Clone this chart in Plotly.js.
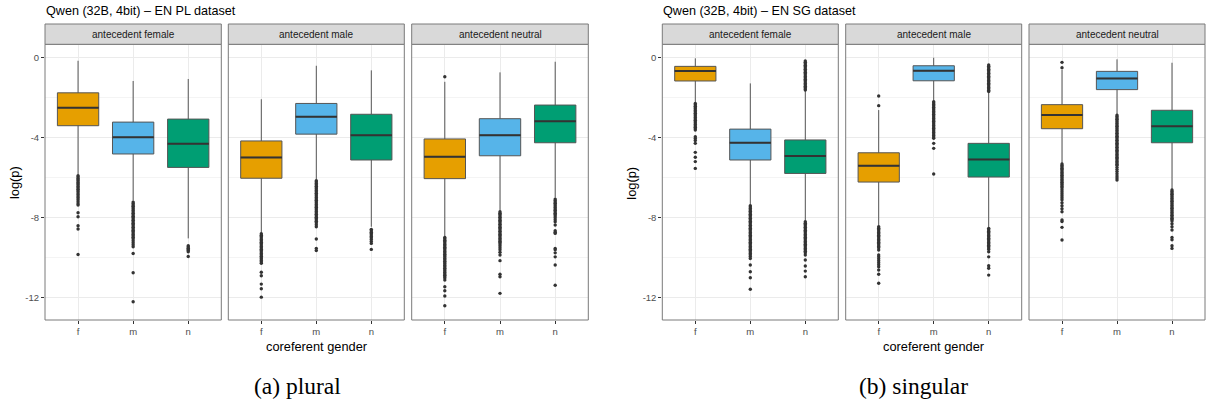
<!DOCTYPE html>
<html>
<head>
<meta charset="utf-8">
<script src="https://cdn.plot.ly/plotly-3.0.1.min.js"></script>
<style>html,body{margin:0;padding:0;background:#fff;}#chart{width:1207px;height:403px;}</style>
</head>
<body>
<div id="chart"></div>
<script>
// ---------- data ----------
const facets = ['antecedent female', 'antecedent male', 'antecedent neutral'];
const genders = ['f', 'm', 'n'];
const datasetTitles = ['Qwen (32B, 4bit) \u2013 EN PL dataset', 'Qwen (32B, 4bit) \u2013 EN SG dataset'];
const captions = ['(a) plural', '(b) singular'];
const yTickVals = [-12, -8, -4, 0];
const yTickText = ['-12', '-8', '-4', '0'];

// PL dataset: [facet][gender]
const plUpper  = [[-0.17, -1.18, -1.08], [-2.09, -0.42, -0.65], [-1.22, -0.75, -0.22]];
const plQ3     = [[-1.77, -3.23, -3.08], [-4.17, -2.30, -2.84], [-4.07, -3.06, -2.38]];
const plMedian = [[-2.51, -3.99, -4.31], [-4.99, -2.96, -3.88], [-4.96, -3.88, -3.19]];
const plQ1     = [[-3.41, -4.82, -5.49], [-6.03, -3.83, -5.12], [-6.05, -4.91, -4.26]];
const plLower  = [[-5.85, -7.15, -9.03], [-8.75, -6.10, -8.45], [-8.95, -7.65, -7.00]];
const plOutliers = [
  [
    [-5.9,-5.97,-6.04,-6.1,-6.17,-6.24,-6.3,-6.37,-6.44,-6.5,-6.58,-6.65,-6.72,-6.8,-6.87,-6.95,-7.02,-7.1,-7.2,-7.3,-7.37,-7.75,-7.95,-8.4,-8.56,-9.83],
    [-7.22,-7.29,-7.36,-7.43,-7.5,-7.57,-7.64,-7.71,-7.78,-7.85,-7.92,-7.99,-8.06,-8.13,-8.2,-8.27,-8.34,-8.41,-8.48,-8.55,-8.62,-8.69,-8.76,-8.83,-8.9,-8.97,-9.05,-9.15,-9.25,-9.35,-9.45,-9.78,-10.74,-12.19],
    [-9.4,-9.46,-9.52,-9.58,-9.64,-9.7,-9.93]
  ],
  [
    [-8.8,-8.87,-8.94,-9.01,-9.08,-9.15,-9.22,-9.29,-9.36,-9.43,-9.5,-9.57,-9.64,-9.71,-9.78,-9.85,-9.92,-9.99,-10.06,-10.13,-10.2,-10.27,-10.72,-10.89,-11.31,-11.54,-11.96],
    [-6.15,-6.22,-6.29,-6.36,-6.43,-6.5,-6.57,-6.64,-6.71,-6.78,-6.85,-6.92,-6.99,-7.06,-7.13,-7.2,-7.27,-7.34,-7.41,-7.48,-7.55,-7.62,-7.69,-7.76,-7.83,-7.9,-7.97,-8.04,-8.11,-8.18,-8.25,-8.35,-8.45,-9.06,-9.53,-9.64],
    [-8.58,-8.65,-8.72,-8.79,-8.86,-8.93,-9.0,-9.08,-9.18,-9.28,-9.58]
  ],
  [
    [-0.97,-8.98,-9.05,-9.12,-9.19,-9.26,-9.33,-9.4,-9.47,-9.54,-9.61,-9.68,-9.75,-9.82,-9.89,-9.96,-10.03,-10.1,-10.17,-10.24,-10.31,-10.38,-10.45,-10.52,-10.59,-10.66,-10.73,-10.8,-10.87,-10.94,-11.01,-11.11,-11.44,-11.64,-11.9,-12.39],
    [-7.7,-7.77,-7.84,-7.91,-7.98,-8.05,-8.12,-8.19,-8.26,-8.33,-8.4,-8.47,-8.54,-8.61,-8.68,-8.75,-8.82,-8.89,-8.96,-9.03,-9.1,-9.17,-9.24,-9.31,-9.4,-9.5,-9.6,-9.72,-9.86,-10.14,-10.82,-10.94,-11.77],
    [-7.07,-7.14,-7.21,-7.28,-7.35,-7.42,-7.49,-7.56,-7.63,-7.7,-7.77,-7.84,-7.91,-8.0,-8.1,-8.2,-8.36,-8.65,-8.72,-8.78,-9.53,-9.6,-9.75,-9.95,-10.36,-11.37]
  ]
];

// SG dataset: [facet][gender]
const sgUpper  = [[-0.05, -1.30, -1.66], [-2.63, -0.02, -1.75], [-0.63, -0.10, -0.27]];
const sgQ3     = [[-0.45, -3.58, -4.12], [-4.76, -0.42, -4.29], [-2.36, -0.70, -2.64]];
const sgMedian = [[-0.68, -4.26, -4.92], [-5.41, -0.67, -5.09], [-2.88, -1.05, -3.44]];
const sgQ1     = [[-1.18, -5.12, -5.79], [-6.22, -1.17, -5.97], [-3.56, -1.61, -4.26]];
const sgLower  = [[-2.25, -7.35, -8.15], [-8.40, -2.18, -8.50], [-5.30, -2.85, -6.60]];
const sgOutliers = [
  [
    [-2.3,-2.37,-2.44,-2.51,-2.58,-2.65,-2.72,-2.79,-2.86,-2.93,-3.0,-3.07,-3.14,-3.21,-3.28,-3.35,-3.42,-3.49,-3.56,-3.63,-3.96,-4.05,-4.15,-4.29,-4.74,-4.98,-5.2,-5.54],
    [-7.4,-7.47,-7.54,-7.61,-7.68,-7.75,-7.82,-7.89,-7.96,-8.03,-8.1,-8.17,-8.24,-8.31,-8.38,-8.45,-8.52,-8.59,-8.66,-8.73,-8.8,-8.87,-8.94,-9.01,-9.08,-9.15,-9.22,-9.29,-9.36,-9.43,-9.5,-9.57,-9.64,-9.71,-9.78,-9.85,-9.93,-10.03,-10.36,-10.69,-10.99,-11.57],
    [-0.18,-0.25,-0.32,-0.39,-0.46,-0.53,-0.6,-0.67,-0.74,-0.81,-0.88,-0.95,-1.02,-1.09,-1.16,-1.23,-1.3,-1.37,-1.44,-1.51,-1.58,-1.63,
     -8.2,-8.27,-8.34,-8.41,-8.48,-8.55,-8.62,-8.69,-8.76,-8.83,-8.9,-8.97,-9.04,-9.11,-9.18,-9.25,-9.32,-9.39,-9.46,-9.53,-9.6,-9.67,-9.74,-9.86,-10.11,-10.41,-10.66,-10.94]
  ],
  [
    [-1.93,-2.41,-8.45,-8.52,-8.59,-8.66,-8.73,-8.8,-8.87,-8.94,-9.01,-9.08,-9.15,-9.22,-9.29,-9.36,-9.43,-9.5,-9.61,-9.86,-9.95,-10.05,-10.15,-10.25,-10.35,-10.45,-10.61,-10.82,-11.27],
    [-2.21,-2.28,-2.35,-2.42,-2.49,-2.56,-2.63,-2.7,-2.77,-2.84,-2.91,-2.98,-3.05,-3.12,-3.19,-3.26,-3.33,-3.4,-3.47,-3.54,-3.61,-3.68,-3.75,-3.82,-3.9,-3.97,-4.04,-4.29,-4.54,-5.82],
    [-0.38,-0.45,-0.52,-0.59,-0.66,-0.73,-0.8,-0.87,-0.94,-1.01,-1.08,-1.15,-1.22,-1.29,-1.36,-1.43,-1.5,-1.57,-1.64,-1.71,
     -8.53,-8.6,-8.67,-8.74,-8.81,-8.88,-8.95,-9.02,-9.09,-9.16,-9.23,-9.3,-9.37,-9.44,-9.51,-9.58,-9.7,-9.95,-10.39,-10.52,-10.86]
  ],
  [
    [-0.25,-0.52,-5.32,-5.39,-5.46,-5.53,-5.6,-5.67,-5.74,-5.81,-5.88,-5.95,-6.02,-6.09,-6.16,-6.23,-6.3,-6.37,-6.44,-6.51,-6.6,-6.7,-6.8,-6.9,-7.0,-7.1,-7.25,-7.4,-7.55,-7.7,-8.11,-8.19,-8.48,-9.11],
    [-2.88,-2.95,-3.02,-3.09,-3.16,-3.23,-3.3,-3.37,-3.44,-3.51,-3.58,-3.65,-3.72,-3.79,-3.86,-3.93,-4.0,-4.07,-4.14,-4.21,-4.28,-4.35,-4.42,-4.49,-4.56,-4.63,-4.7,-4.77,-4.84,-4.91,-4.98,-5.05,-5.12,-5.19,-5.26,-5.33,-5.4,-5.5,-5.6,-5.7,-5.8,-5.92,-6.02,-6.12],
    [-6.62,-6.69,-6.76,-6.83,-6.9,-6.97,-7.04,-7.11,-7.18,-7.25,-7.32,-7.39,-7.46,-7.53,-7.6,-7.67,-7.74,-7.81,-7.88,-7.95,-8.02,-8.09,-8.16,-8.3,-8.45,-8.61,-8.98,-9.1,-9.4,-9.53]
  ]
];

// ---------- style ----------
const fills = ['#E69F00', '#56B4E9', '#009E73'];
const FONT = 'Liberation Sans, Arial, Helvetica, sans-serif';
const SERIF = 'Liberation Serif, Times New Roman, serif';
const BOX_W = 0.75;
const W = 1207, H = 403;
const px = v => v / W;
const py = v => 1 - v / H;

const datasets = [
  {upper: plUpper, q3: plQ3, med: plMedian, q1: plQ1, lower: plLower, out: plOutliers},
  {upper: sgUpper, q3: sgQ3, med: sgMedian, q1: sgQ1, lower: sgLower, out: sgOutliers}
];

// panel pixel geometry
const panelX = [[45, 221.3], [228.3, 404.3], [411.7, 588.3], [662.3, 838.3], [845.7, 1021.7], [1029, 1205]];
const panelTop = 44.3, panelBottom = 320, stripH = 20.3;
const yRange = [-13.10, 0.65];

const traces = [];
const layout = {
  width: W, height: H,
  margin: {l: 0, r: 0, t: 0, b: 0},
  paper_bgcolor: '#ffffff', plot_bgcolor: '#ffffff',
  font: {family: FONT},
  showlegend: false,
  shapes: [], annotations: []
};

for (let d = 0; d < 2; d++) {
  const ds = datasets[d];
  const yName = d === 0 ? 'y' : 'y2';
  const yKey = d === 0 ? 'yaxis' : 'yaxis2';
  layout[yKey] = {
    domain: [py(panelBottom), py(panelTop)],
    range: yRange,
    anchor: d === 0 ? 'x' : 'x4',
    tickvals: yTickVals, ticktext: yTickText,
    ticks: 'outside', ticklen: 3, tickcolor: '#333333', tickwidth: 1,
    tickfont: {size: 9.5, color: '#4d4d4d', family: FONT},
    showgrid: true, gridcolor: '#ebebeb', gridwidth: 1,
    minor: {tickvals: [-10, -6, -2], showgrid: true, gridcolor: '#f4f4f4', gridwidth: 1, ticks: ''},
    zeroline: false, showline: false, fixedrange: true
  };
  for (let i = 0; i < 3; i++) {
    const k = d * 3 + i + 1;
    const xName = k === 1 ? 'x' : 'x' + k;
    const xKey = k === 1 ? 'xaxis' : 'xaxis' + k;
    layout[xKey] = {
      domain: [px(panelX[k - 1][0]), px(panelX[k - 1][1])],
      range: [0.4, 3.6],
      anchor: yName,
      tickvals: [1, 2, 3], ticktext: genders,
      ticks: 'outside', ticklen: 3, tickcolor: '#333333', tickwidth: 1,
      tickfont: {size: 9.5, color: '#4d4d4d', family: FONT},
      showgrid: true, gridcolor: '#ebebeb', gridwidth: 1,
      zeroline: false, showline: false, fixedrange: true
    };
    // panel border
    layout.shapes.push({type: 'rect', xref: xName + ' domain', yref: yName + ' domain',
      x0: 0, x1: 1, y0: 0, y1: 1, line: {color: '#7a7a7a', width: 1}, fillcolor: 'rgba(0,0,0,0)', layer: 'above'});
    // strip
    const sh = stripH / (panelBottom - panelTop);
    layout.shapes.push({type: 'rect', xref: xName + ' domain', yref: yName + ' domain',
      x0: 0, x1: 1, y0: 1, y1: 1 + sh, line: {color: '#7a7a7a', width: 1}, fillcolor: '#d9d9d9', layer: 'above'});
    layout.annotations.push({xref: xName + ' domain', yref: yName + ' domain', x: 0.5, y: 1 + sh / 2,
      text: facets[i], showarrow: false, xanchor: 'center', yanchor: 'middle',
      font: {size: 10, color: '#1a1a1a', family: FONT}});

    for (let g = 0; g < 3; g++) {
      const pos = g + 1;
      traces.push({
        type: 'box', xaxis: xName, yaxis: yName,
        x: [pos], q1: [ds.q1[i][g]], median: [ds.med[i][g]], q3: [ds.q3[i][g]],
        lowerfence: [ds.lower[i][g]], upperfence: [ds.upper[i][g]],
        width: BOX_W, whiskerwidth: 0, boxpoints: false,
        fillcolor: fills[g], line: {color: '#555555', width: 1},
        hoverinfo: 'skip', showlegend: false
      });
      traces.push({
        type: 'scatter', mode: 'lines', xaxis: xName, yaxis: yName,
        x: [pos - BOX_W / 2, pos + BOX_W / 2], y: [ds.med[i][g], ds.med[i][g]],
        line: {color: '#333333', width: 2}, hoverinfo: 'skip', showlegend: false
      });
      const outs = ds.out[i][g];
      traces.push({
        type: 'scatter', mode: 'markers', xaxis: xName, yaxis: yName,
        x: outs.map(() => pos), y: outs,
        marker: {color: '#333333', size: 3.4, line: {width: 0}},
        hoverinfo: 'skip', showlegend: false
      });
    }
  }
  // titles
  const left = panelX[d * 3][0], right = panelX[d * 3 + 2][1];
  layout.annotations.push({xref: 'paper', yref: 'paper', x: px(left - 1), y: py(10.7),
    text: datasetTitles[d], showarrow: false, xanchor: 'left', yanchor: 'middle',
    font: {size: 12.6, color: '#000000', family: FONT}});
  layout.annotations.push({xref: 'paper', yref: 'paper', x: px(d === 0 ? 15 : 631.7), y: py(183),
    text: 'log(p)', textangle: -90, showarrow: false, xanchor: 'center', yanchor: 'middle',
    font: {size: 12.8, color: '#000000', family: FONT}});
  layout.annotations.push({xref: 'paper', yref: 'paper', x: px((left + right) / 2), y: py(346),
    text: 'coreferent gender', showarrow: false, xanchor: 'center', yanchor: 'middle',
    font: {size: 12.8, color: '#000000', family: FONT}});
  layout.annotations.push({xref: 'paper', yref: 'paper', x: px(d === 0 ? 297.5 : 913.3), y: py(386),
    text: captions[d], showarrow: false, xanchor: 'center', yanchor: 'middle',
    font: {size: 23.5, color: '#000000', family: SERIF}});
}

Plotly.newPlot('chart', traces, layout, {staticPlot: true, displayModeBar: false});
</script>
</body>
</html>
